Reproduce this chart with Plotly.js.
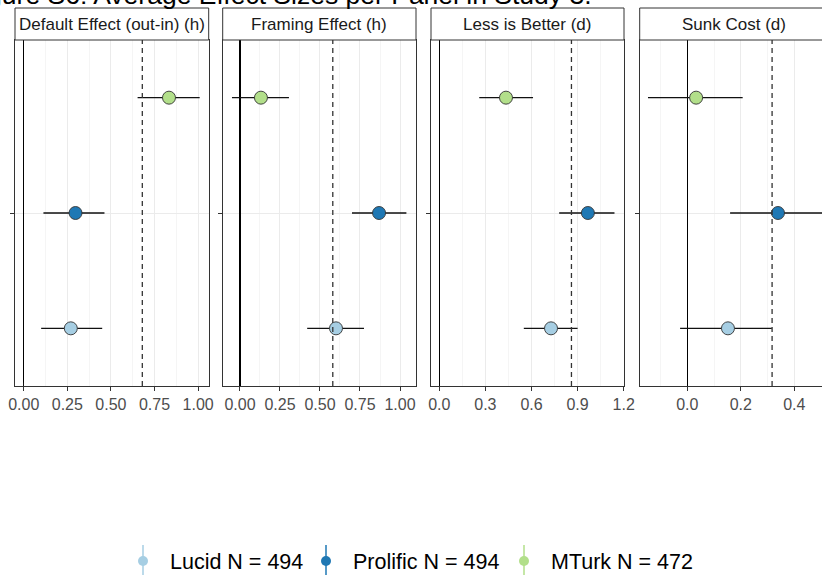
<!DOCTYPE html>
<html>
<head>
<meta charset="utf-8">
<script src="https://cdn.plot.ly/plotly-3.0.1.min.js"></script>
<style>
  html, body { margin: 0; padding: 0; background: #fff; overflow: hidden; }
  #chart { width: 822px; height: 575px; }
</style>
</head>
<body>
<div id="chart"></div>
<script>
// ---------- data ----------
const panelTitles = ["Default Effect (out-in) (h)", "Framing Effect (h)", "Less is Better (d)", "Sunk Cost (d)"];
const sampleNames = ["Lucid N = 494", "Prolific N = 494", "MTurk N = 472"];
const sampleColors = ["#A6CEE3", "#1F78B4", "#B2DF8A"];

const lucidEstimate    = [0.270, 0.600, 0.727, 0.152];
const lucidLower       = [0.100, 0.420, 0.550, -0.027];
const lucidUpper       = [0.450, 0.775, 0.900, 0.316];

const prolificEstimate = [0.297, 0.869, 0.967, 0.339];
const prolificLower    = [0.113, 0.700, 0.780, 0.160];
const prolificUpper    = [0.463, 1.040, 1.140, 0.513];

const mturkEstimate    = [0.833, 0.131, 0.434, 0.033];
const mturkLower       = [0.653, -0.050, 0.260, -0.147];
const mturkUpper       = [1.009, 0.306, 0.610, 0.207];

const originalEffect   = [0.680, 0.580, 0.860, 0.317];

const xTickStep   = [0.25, 0.25, 0.3, 0.2];
const xTickFormat = [".2f", ".2f", ".1f", ".1f"];
const xRanges     = [[-0.05, 1.0607], [-0.108, 1.100], [-0.054, 1.202], [-0.178, 0.5036]];

const estimates = [lucidEstimate, prolificEstimate, mturkEstimate];
const lowers    = [lucidLower, prolificLower, mturkLower];
const uppers    = [lucidUpper, prolificUpper, mturkUpper];
const rowCategory = "effect";

// ---------- layout geometry ----------
const W = 822, H = 575;
const M = {l: 15, r: 0, t: 40, b: 189};
const PW = W - M.l - M.r, PH = H - M.t - M.b;
const pxX = px => (px - M.l) / PW;
const pxY = py => (H - M.b - py) / PH;
const domains = [[pxX(15), pxX(208.7)], [pxX(222.7), pxX(416)], [pxX(431), pxX(624)], [pxX(639.7), 1]];
const legendKeyX = [143, 326, 524];

const FONT = "Liberation Sans, Arial, sans-serif";
const traces = [];
const layout = {
  width: W, height: H,
  margin: M,
  paper_bgcolor: "#fff", plot_bgcolor: "#fff",
  font: {family: FONT, color: "#1A1A1A"},
  scattermode: "group",
  scattergap: 0,
  showlegend: true,
  shapes: [], annotations: []
};

panelTitles.forEach((title, p) => {
  const sfx = p === 0 ? "" : String(p + 1);
  const xa = "x" + sfx, ya = "y" + sfx;
  for (let s = 0; s < 3; s++) {
    traces.push({
      type: "scatter", mode: "markers",
      orientation: "h",
      x: [estimates[s][p]], y: [rowCategory],
      xaxis: xa, yaxis: ya,
      name: sampleNames[s],
      offsetgroup: "g" + s, alignmentgroup: "a",
      showlegend: false,
      marker: {size: 13, color: sampleColors[s], line: {color: "#333", width: 0.9}},
      error_x: {
        type: "data", symmetric: false,
        array: [uppers[s][p] - estimates[s][p]],
        arrayminus: [estimates[s][p] - lowers[s][p]],
        color: "#111", thickness: 1.4, width: 0
      },
      hoverinfo: "x+name"
    });
  }
  layout["xaxis" + sfx] = {
    domain: domains[p], range: xRanges[p], anchor: ya,
    dtick: xTickStep[p], tick0: 0, tickformat: xTickFormat[p],
    ticks: "outside", ticklen: 4, tickwidth: 1, tickcolor: "#333",
    tickfont: {size: 16, color: "#4D4D4D", family: FONT},
    showgrid: true, gridcolor: "#EBEBEB", gridwidth: 1,
    minor: {dtick: xTickStep[p] / 2, tick0: 0, showgrid: true, gridcolor: "#F3F3F3", gridwidth: 0.8},
    zeroline: true, zerolinecolor: "#000", zerolinewidth: 1.2,
    showline: true, linecolor: "#333", linewidth: 1, mirror: true,
    fixedrange: true
  };
  layout["yaxis" + sfx] = {
    domain: [0, 1], anchor: xa, type: "category", range: [-0.5, 0.5],
    showticklabels: false, ticks: "outside", ticklen: 4, tickwidth: 1, tickcolor: "#333",
    showgrid: true, gridcolor: "#EBEBEB", gridwidth: 1,
    zeroline: false,
    showline: true, linecolor: "#333", linewidth: 1, mirror: p < 3,
    fixedrange: true
  };
  // reference (original study) effect
  layout.shapes.push({
    type: "line", xref: xa, x0: originalEffect[p], x1: originalEffect[p],
    yref: ya + " domain", y0: 0, y1: 1,
    line: {color: "#333", width: 1.3, dash: "5px,4px"}, layer: "above"
  });
  // strip box
  layout.shapes.push({
    type: "rect", xref: "paper", yref: "paper",
    x0: domains[p][0], x1: p < 3 ? domains[p][1] : 1.03,
    y0: 1, y1: pxY(8),
    line: {color: "#333", width: 1}, fillcolor: "#fff", layer: "above"
  });
  layout.annotations.push({
    text: title, showarrow: false,
    xref: "paper", x: p < 3 ? (domains[p][0] + domains[p][1]) / 2 : pxX(734), xanchor: "center",
    yref: "paper", y: pxY(24), yanchor: "middle",
    font: {size: 17, color: "#1A1A1A", family: FONT}
  });
});

// legend entries (markers without outline) on a hidden subplot, one legend per entry
const legendIds = ["legend", "legend2", "legend3"];
for (let s = 0; s < 3; s++) {
  traces.push({
    type: "scatter", mode: "markers", x: [null], y: [null],
    xaxis: "x5", yaxis: "y5", name: sampleNames[s], showlegend: true,
    legend: legendIds[s],
    marker: {size: 10, color: sampleColors[s]}, hoverinfo: "skip"
  });
  layout[legendIds[s]] = {
    orientation: "h", itemwidth: 44,
    xref: "container", yref: "container",
    x: (legendKeyX[s] - 27) / W, xanchor: "left",
    y: 1 - 561 / H, yanchor: "middle",
    font: {size: 21.5, color: "#000", family: FONT},
    bgcolor: "rgba(0,0,0,0)", borderwidth: 0
  };
  layout.shapes.push({
    type: "line", xref: "paper", yref: "paper",
    x0: pxX(legendKeyX[s]), x1: pxX(legendKeyX[s]), y0: pxY(545), y1: pxY(580),
    line: {color: sampleColors[s], width: 1.5}, layer: "below"
  });
}
layout.xaxis5 = {domain: [0, 0.01], visible: false, anchor: "y5"};
layout.yaxis5 = {domain: [0, 0.01], visible: false, anchor: "x5"};

// figure title (cropped in the reference)
layout.annotations.push({
  text: "Figure S6: Average Effect Sizes per Panel in Study 3.", showarrow: false,
  xref: "paper", x: pxX(-37), xanchor: "left",
  yref: "paper", y: pxY(-5), yanchor: "middle",
  font: {size: 26.5, color: "#000", family: FONT}
});

Plotly.newPlot("chart", traces, layout, {displayModeBar: false, staticPlot: true});
</script>
</body>
</html>
